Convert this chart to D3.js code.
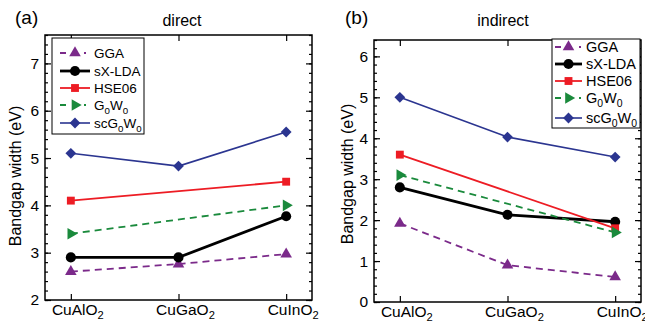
<!DOCTYPE html>
<html>
<head>
<meta charset="utf-8">
<script src="https://cdn.jsdelivr.net/npm/d3@7"></script>
<style>
  body { margin: 0; background: #fff; }
  svg { display: block; font-family: "Liberation Sans", Arial, sans-serif; }
</style>
</head>
<body>
<svg id="chart" width="645" height="321"></svg>
<script>
// Data
var categories = ['CuAlO_2', 'CuGaO_2', 'CuInO_2'];
var seriesNames = ['GGA', 'sX-LDA', 'HSE06', 'G_0W_0', 'scG_0W_0'];

// direct gaps (eV), null = no point
var directGGA    = [2.60, 2.76, 2.97];
var directSXLDA  = [2.90, 2.90, 3.77];
var directHSE06  = [4.10, null, 4.50];
var directG0W0   = [3.40, null, 4.00];
var directSCG0W0 = [5.10, 4.83, 5.55];

// indirect gaps (eV)
var indirectGGA    = [1.92, 0.90, 0.61];
var indirectSXLDA  = [2.80, 2.13, 1.96];
var indirectHSE06  = [3.60, null, 1.80];
var indirectG0W0   = [3.10, null, 1.70];
var indirectSCG0W0 = [5.00, 4.03, 3.54];

// Styles per series
var estilos = {
  'GGA':      { cor: '#7b2a8a', traco: '7,5', largura: 1.8, simbolo: d3.symbolTriangle, tam: 58, rot: 0 },
  'sX-LDA':   { cor: '#000000', traco: null,  largura: 2.8, simbolo: d3.symbolCircle,   tam: 80, rot: 0 },
  'HSE06':    { cor: '#ed1c24', traco: null,  largura: 1.8, simbolo: d3.symbolSquare,   tam: 62, rot: 0 },
  'G_0W_0':   { cor: '#1a8a3c', traco: '7,5', largura: 1.8, simbolo: d3.symbolTriangle, tam: 58, rot: 90 },
  'scG_0W_0': { cor: '#2b3590', traco: null,  largura: 1.6, simbolo: d3.symbolSquare,   tam: 58, rot: 45 }
};

var svg = d3.select('#chart');

// Writes text with "_x" as subscript
function escreve(sel, str, tamanho) {
  var partes = str.split(/(_.)/).filter(s => s.length);
  var desl = 0;
  partes.forEach(function(p) {
    if (p[0] === '_') {
      sel.append('tspan').attr('font-size', tamanho * 0.72)
         .attr('dy', tamanho * 0.3 - desl).text(p[1]);
      desl = tamanho * 0.3;
    } else {
      sel.append('tspan').attr('dy', -desl).text(p);
      desl = 0;
    }
  });
}

function painel(par) {
  var x = d3.scalePoint().domain(categories)
            .range([par.esq, par.dir]).padding(0.24);
  var y = d3.scaleLinear().domain(par.dominio)
            .range([par.inf, par.sup]);

  var g = svg.append('g');
  var maiores = d3.range(par.dominio[0], Math.floor(par.dominio[1]) + 1, 1);
  var menores = d3.range(par.dominio[0], par.dominio[1] + 1e-9, 0.2);

  // minor ticks left/right
  g.append('g').attr('transform', 'translate(' + par.esq + ',0)')
   .call(d3.axisLeft(y).tickValues(menores).tickSizeInner(-3).tickSizeOuter(0).tickFormat(''));
  g.append('g').attr('transform', 'translate(' + par.dir + ',0)')
   .call(d3.axisRight(y).tickValues(menores).tickSizeInner(-3).tickSizeOuter(0).tickFormat(''));
  // major ticks
  g.append('g').attr('class', 'eixoY').attr('transform', 'translate(' + par.esq + ',0)')
   .call(d3.axisLeft(y).tickValues(maiores).tickSizeInner(-6).tickSizeOuter(0).tickPadding(6).tickFormat(d3.format('d')));
  g.append('g').attr('transform', 'translate(' + par.dir + ',0)')
   .call(d3.axisRight(y).tickValues(maiores).tickSizeInner(-6).tickSizeOuter(0).tickFormat(''));
  g.append('g').attr('transform', 'translate(0,' + par.inf + ')')
   .call(d3.axisBottom(x).tickSizeInner(-6).tickSizeOuter(0).tickFormat(''));
  g.append('g').attr('transform', 'translate(0,' + par.sup + ')')
   .call(d3.axisTop(x).tickSizeInner(-6).tickSizeOuter(0).tickFormat(''));
  g.selectAll('.domain').remove();
  g.selectAll('.tick line').attr('stroke', '#000').attr('stroke-width', 1.2);
  g.selectAll('.eixoY text').attr('font-size', 15.5).attr('fill', '#000')
   .attr('font-family', '"Liberation Sans", Arial, sans-serif');

  // frame
  g.append('rect').attr('x', par.esq).attr('y', par.sup)
   .attr('width', par.dir - par.esq).attr('height', par.inf - par.sup)
   .attr('fill', 'none').attr('stroke', '#000').attr('stroke-width', 1.5);

  // category labels
  categories.forEach(function(c) {
    var t = g.append('text').attr('x', x(c) + 7).attr('y', par.inf + 14.5)
             .attr('text-anchor', 'middle').attr('font-size', 15.5);
    escreve(t, c, 15.5);
  });

  // series
  var linha = d3.line().x(d => x(d.c)).y(d => y(d.v));
  par.series.forEach(function(vals, i) {
    var nome = seriesNames[i], e = estilos[nome];
    var pts = vals.map((v, k) => ({ c: categories[k], v: v })).filter(d => d.v !== null);
    g.append('path').datum(pts).attr('d', linha)
     .attr('fill', 'none').attr('stroke', e.cor)
     .attr('stroke-width', e.largura).attr('stroke-dasharray', e.traco);
    g.selectAll(null).data(pts).enter().append('path')
     .attr('d', d3.symbol().type(e.simbolo).size(e.tam))
     .attr('transform', d => 'translate(' + x(d.c) + ',' + y(d.v) + ') rotate(' + e.rot + ')')
     .attr('fill', e.cor);
  });

  // legend
  var L = par.legenda;
  g.append('rect').attr('x', L.x0).attr('y', L.y0)
   .attr('width', L.x1 - L.x0).attr('height', L.y1 - L.y0)
   .attr('fill', '#fff').attr('stroke', '#000').attr('stroke-width', 1);
  seriesNames.forEach(function(nome, i) {
    var e = estilos[nome], yy = L.linhas[i];
    g.append('line').attr('x1', L.l0).attr('x2', L.l1).attr('y1', yy).attr('y2', yy)
     .attr('stroke', e.cor).attr('stroke-width', e.largura)
     .attr('stroke-dasharray', e.traco ? '6,7,4,7,2' : null);
    g.append('path').attr('d', d3.symbol().type(e.simbolo).size(e.tam))
     .attr('transform', 'translate(' + (L.l0 + L.l1) / 2 + ',' + yy + ') rotate(' + e.rot + ')')
     .attr('fill', e.cor);
    var t = g.append('text').attr('x', L.tx).attr('y', yy + 5).attr('font-size', L.fonte);
    escreve(t, nome, L.fonte);
  });

  // titles
  svg.append('text').attr('x', par.tituloX).attr('y', 26).attr('text-anchor', 'middle')
     .attr('font-size', 16).text(par.titulo);
  svg.append('text').attr('x', par.letraX).attr('y', 24)
     .attr('font-size', 19).text(par.letra);
  svg.append('text').attr('transform', 'translate(' + par.rotuloX + ',' + par.rotuloY + ') rotate(-90)')
     .attr('text-anchor', 'middle').attr('font-size', 16).text('Bandgap width (eV)');
}

painel({
  esq: 45, dir: 312, sup: 35, inf: 300, dominio: [2, 7.6],
  series: [directGGA, directSXLDA, directHSE06, directG0W0, directSCG0W0],
  titulo: 'direct', tituloX: 182, letra: '(a)', letraX: 15,
  rotuloX: 21, rotuloY: 176,
  legenda: { x0: 52, x1: 144, y0: 38, y1: 134, l0: 60, l1: 90, tx: 94, fonte: 13.5,
             linhas: [53, 71, 88, 105, 123] }
});

painel({
  esq: 374, dir: 641, sup: 40, inf: 302, dominio: [0, 6.4],
  series: [indirectGGA, indirectSXLDA, indirectHSE06, indirectG0W0, indirectSCG0W0],
  titulo: 'indirect', tituloX: 503, letra: '(b)', letraX: 345,
  rotuloX: 353, rotuloY: 174,
  legenda: { x0: 552, x1: 640, y0: 39, y1: 128, l0: 555, l1: 582, tx: 586, fonte: 14.5,
             linhas: [47, 64, 81, 98, 118] }
});
</script>
</body>
</html>
